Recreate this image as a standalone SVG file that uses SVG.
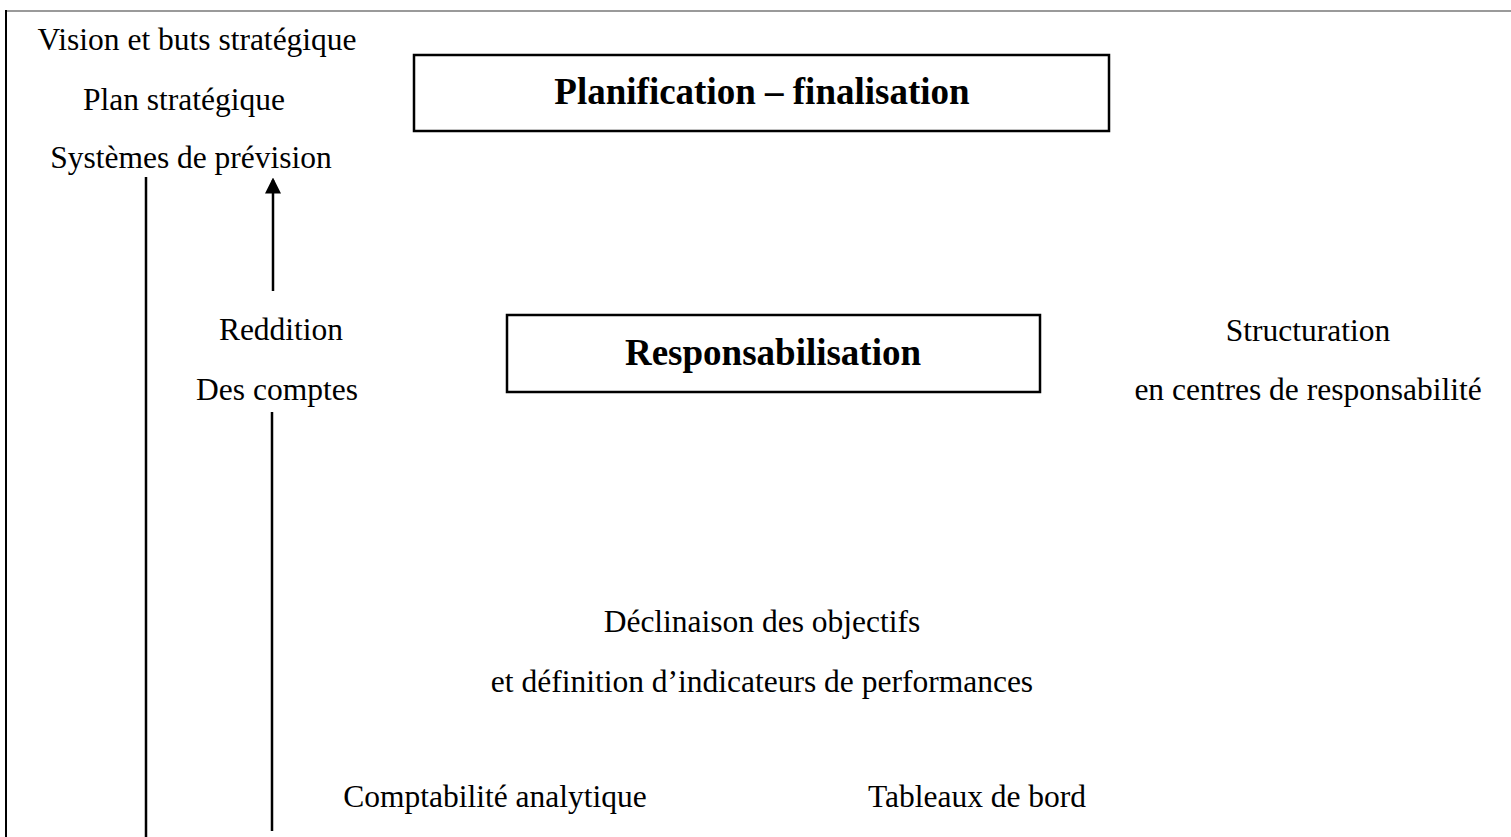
<svg xmlns="http://www.w3.org/2000/svg" width="1511" height="837" viewBox="0 0 1511 837">
  <style>
    .t { font-family: "Liberation Serif", "Times New Roman", serif; font-size: 31.5px; fill: #000; text-anchor: middle; }
    .b { font-family: "Liberation Serif", "Times New Roman", serif; font-size: 37px; font-weight: bold; fill: #000; text-anchor: middle; }
    .box { fill: #fff; stroke: #000; stroke-width: 2.5; }
    .ln { stroke: #000; stroke-width: 2.5; fill: none; }
  </style>
  <defs>
    <marker id="ah" markerWidth="6.4" markerHeight="6.4" refX="5.4" refY="3.2" orient="auto" markerUnits="strokeWidth">
      <path d="M0,0 L6.4,3.2 L0,6.4 Z" fill="#000"/>
    </marker>
  </defs>
  <rect width="1511" height="837" fill="#fff"/>
  <g id="frame">
    <line x1="6" y1="11" x2="1511" y2="11" stroke="#9a9a9a" stroke-width="2"/>
    <line x1="6" y1="10" x2="6" y2="837" stroke="#000" stroke-width="2"/>
  </g>
  <g id="connectors">
    <line class="ln" x1="146" y1="177" x2="146" y2="837" stroke-width="2.7"/>
    <line class="ln" x1="272" y1="412" x2="272" y2="831" stroke-width="2.2"/>
    <line class="ln" x1="273" y1="291" x2="273" y2="180" marker-end="url(#ah)"/>
  </g>
  <g id="planif-labels">
    <text class="t" x="197" y="50">Vision et buts stratégique</text>
    <text class="t" x="184" y="110">Plan stratégique</text>
    <text class="t" x="191" y="168">Systèmes de prévision</text>
  </g>
  <g id="planification">
    <rect class="box" x="414" y="55" width="695" height="76"/>
    <text class="b" x="762" y="104">Planification – finalisation</text>
  </g>
  <g id="reddition">
    <text class="t" x="281" y="340">Reddition</text>
    <text class="t" x="277" y="400">Des comptes</text>
  </g>
  <g id="responsabilisation">
    <rect class="box" x="507" y="315" width="533" height="77"/>
    <text class="b" x="773" y="365">Responsabilisation</text>
  </g>
  <g id="structuration">
    <text class="t" x="1308" y="341">Structuration</text>
    <text class="t" x="1308" y="400">en centres de responsabilité</text>
  </g>
  <g id="declinaison">
    <text class="t" x="762" y="632">Déclinaison des objectifs</text>
    <text class="t" x="762" y="692">et définition d’indicateurs de performances</text>
  </g>
  <g id="comptabilite">
    <text class="t" x="495" y="807">Comptabilité analytique</text>
  </g>
  <g id="tableaux">
    <text class="t" x="977" y="807">Tableaux de bord</text>
  </g>
</svg>
